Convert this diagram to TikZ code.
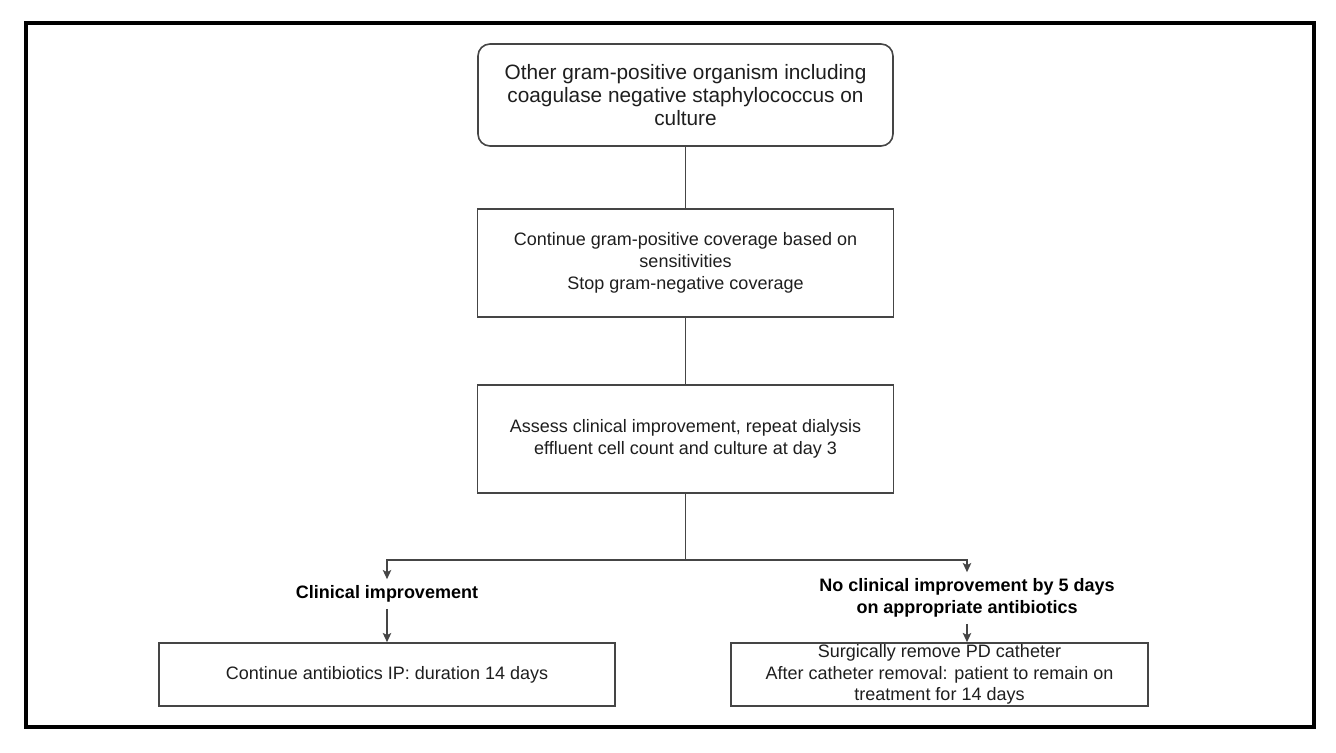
\documentclass[tikz,border=0pt]{standalone}
\usepackage{fontspec}
\setmainfont{Liberation Sans}
\usetikzlibrary{arrows.meta,positioning}
\definecolor{linegray}{HTML}{454545}
\definecolor{textgray}{HTML}{1E1E1E}
\tikzset{
  startbox/.style = {draw=linegray, line width=0.8pt, rounded corners=6pt,
                     minimum width=207.5pt, minimum height=51pt, inner sep=0pt,
                     align=center, text=textgray, font=\fontsize{10.4}{11.4}\selectfont},
  stepbox/.style  = {draw=linegray, line width=0.8pt, minimum width=208pt,
                     minimum height=54pt, inner sep=0pt, align=center,
                     text=textgray, font=\fontsize{9}{11}\selectfont},
  endbox/.style   = {draw=linegray, line width=0.8pt, minimum height=31.5pt,
                     inner sep=0pt, align=center, text=textgray,
                     font=\fontsize{9}{10.9}\selectfont},
  branchlab/.style = {inner sep=3pt, align=center, text=black,
                      font=\bfseries\fontsize{9}{11}\selectfont},
  link/.style     = {draw=linegray, line width=0.85pt},
  arr/.style      = {link, -{Stealth[length=4.6pt,width=4.2pt,inset=1pt]}},
  frame/.style    = {draw=black, line width=1.8pt},
}
\begin{document}
\begin{tikzpicture}[x=0.5pt,y=-0.5pt]
  \useasboundingbox (0,0) rectangle (1336,753);
  \draw[frame] (26,23) rectangle (1314,727);

  % main column
  \node[startbox] (organism) at (685.5,95)
    {Other gram-positive organism including\\
     coagulase negative staphylococcus on\\
     culture};
  \node[stepbox] (coverage) at (685.5,263)
    {Continue gram-positive coverage based on\\
     sensitivities\\
     Stop gram-negative coverage};
  \node[stepbox] (assess) at (685.5,439)
    {Assess clinical improvement, repeat dialysis\\
     effluent cell count and culture at day 3};
  \coordinate (split) at (685.5,560);

  % branches
  \node[branchlab] (improved) at (387,594) {Clinical improvement};
  \node[branchlab] (notimproved) at (967,598)
    {No clinical improvement by 5 days\\ on appropriate antibiotics};
  \node[endbox, minimum width=228pt] (continueIP) at (387,674.5)
    {Continue antibiotics IP: duration 14 days};
  \node[endbox, minimum width=208.5pt] (removePD) at (939.5,674.5)
    {Surgically remove PD catheter\\
     After catheter removal: patient to remain on\\
     treatment for 14 days};

  \draw[link] (organism) -- (coverage);
  \draw[link] (coverage) -- (assess);
  \draw[link] (assess) -- (split);
  \draw[arr] (split) -| (improved.north);
  \draw[arr] (split) -| (notimproved.north);
  \draw[arr] (improved.south) -- (continueIP.north);
  \draw[arr] (notimproved.south) -- (notimproved.south |- removePD.north);
\end{tikzpicture}
\end{document}
